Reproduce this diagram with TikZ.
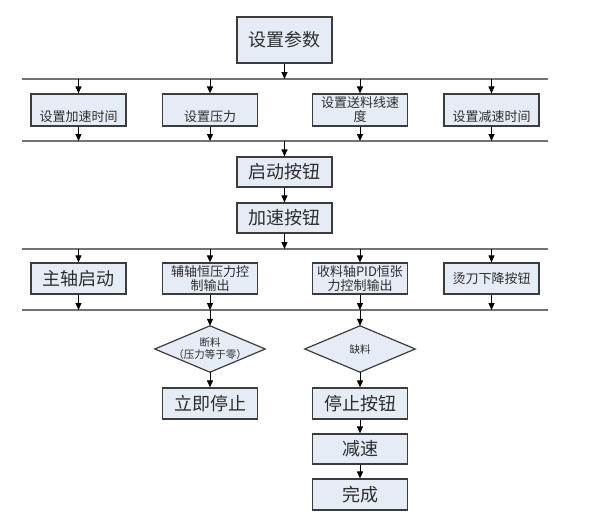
\documentclass[tikz,border=0pt]{standalone}
\usepackage{fontspec}
\newfontfamily\cjk{Noto Sans CJK SC}
\usetikzlibrary{arrows.meta,backgrounds}
\definecolor{boxfill}{RGB}{230,236,246}
\definecolor{boxedge}{RGB}{60,60,60}
\definecolor{busline}{RGB}{115,115,115}
\definecolor{txt}{RGB}{45,45,45}
\tikzset{
  box/.style={draw=boxedge, fill=boxfill, line width=1.2pt, minimum width=95pt,
    inner sep=1pt, align=center, text=txt, font=\cjk\fontsize{13pt}{14pt}\selectfont},
  big/.style={box, font=\cjk\fontsize{18pt}{20pt}\selectfont},
  low/.style={text height=22pt, text depth=0pt},
  dia/.style={minimum width=110pt, minimum height=46pt, inner sep=0pt, align=center,
    text=txt, font=\cjk\fontsize{10.5pt}{12pt}\selectfont},
  diashape/.style={draw=boxedge, fill=boxfill, line width=1.2pt, line join=miter},
  arr/.style={-{Triangle[length=7pt,width=6pt]}, line width=1pt, black},
  bus/.style={draw=busline, line width=1.3pt}
}
\begin{document}
\begin{tikzpicture}[x=1pt, y=-1pt]
\useasboundingbox (0,0) rectangle (594,519);
% bus coordinates
\coordinate (b1w) at (22,79);  \coordinate (b1e) at (548,79);
\coordinate (b2w) at (22,141); \coordinate (b2e) at (548,141);
\coordinate (b3w) at (22,249); \coordinate (b3e) at (548,249);
\coordinate (b4w) at (22,310); \coordinate (b4e) at (548,310);
\draw[bus] (b1w) -- (b1e);
\draw[bus] (b2w) -- (b2e);
\draw[bus] (b3w) -- (b3e);
\draw[bus] (b4w) -- (b4e);
% nodes
\node[big, minimum height=46pt] (set) at (284.5,40) {设置参数};
\node[box, minimum height=32pt, low] (r1a) at (78.5,110) {设置加速时间};
\node[box, minimum height=32pt, low] (r1b) at (210,110) {设置压力};
\node[box, minimum height=32pt] (r1c) at (360,110) {设置送料线速\\度};
\node[box, minimum height=32pt, low] (r1d) at (491.5,110) {设置减速时间};
\node[big, minimum height=30pt] (start) at (284.5,172) {启动按钮};
\node[big, minimum height=30pt] (accel) at (284.5,218) {加速按钮};
\node[big, minimum height=31pt] (r2a) at (78.5,278.5) {主轴启动};
\node[box, minimum height=31pt] (r2b) at (210,278.5) {辅轴恒压力控\\制输出};
\node[box, minimum height=31pt] (r2c) at (360,278.5) {收料轴PID恒张\\力控制输出};
\node[box, minimum height=31pt] (r2d) at (491.5,278.5) {烫刀下降按钮};
\node[dia] (d1) at (210,349) {断料\\（压力等于零）};
\node[dia] (d2) at (360,349) {缺料};
\node[big, minimum height=31pt] (stopnow) at (210,403.5) {立即停止};
\node[big, minimum height=31pt] (stopbtn) at (360,403.5) {停止按钮};
\node[big, minimum height=30pt] (dec) at (360,449) {减速};
\node[big, minimum height=31pt] (done) at (360,494.5) {完成};
\begin{scope}[on background layer]
\draw[diashape] (d1.north) -- (d1.east) -- (d1.south) -- (d1.west) -- cycle;
\draw[diashape] (d2.north) -- (d2.east) -- (d2.south) -- (d2.west) -- cycle;
\end{scope}
% connectors
\draw[arr] (set) -- (set |- b1w);
\foreach \n in {r1a,r1b,r1c,r1d}{
  \draw[arr] (\n |- b1w) -- (\n);
  \draw[arr] (\n) -- (\n |- b2w);
}
\draw[arr] (start |- b2w) -- (start);
\draw[arr] (start) -- (accel);
\draw[arr] (accel) -- (accel |- b3w);
\foreach \n in {r2a,r2b,r2c,r2d}{
  \draw[arr] (\n |- b3w) -- (\n);
  \draw[arr] (\n) -- (\n |- b4w);
}
\draw[arr] (d1 |- b4w) -- (d1.north);
\draw[arr] (d2 |- b4w) -- (d2.north);
\draw[arr] (d1.south) -- (stopnow);
\draw[arr] (d2.south) -- (stopbtn);
\draw[arr] (stopbtn) -- (dec);
\draw[arr] (dec) -- (done);
\end{tikzpicture}
\end{document}
